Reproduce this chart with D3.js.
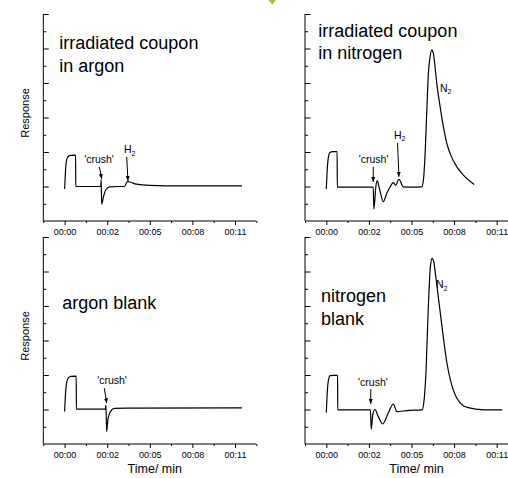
<!DOCTYPE html>
<html>
<head>
<meta charset="utf-8">
<script src="https://cdn.jsdelivr.net/npm/d3@7"></script>
<style>
body{margin:0;background:#fff;}
text{font-family:"Liberation Sans",Arial,sans-serif;fill:#000;}
</style>
</head>
<body>
<div id="viz-container"></div>
<script>
// time in minutes, response in arbitrary units (baseline ~1)
let timeTicks = [0, 2.75, 5.5, 8.25, 11];
let timeLabels = ['00:00', '00:02', '00:05', '00:08', '00:11'];
let timeMinor = [-1.375, 1.375, 4.125, 6.875, 9.625, 12.375];
let respMajor = [1, 2, 3, 4, 5, 6];
let respMinor = [0.5, 1.5, 2.5, 3.5, 4.5, 5.5];

let argonCoupon = [[0,0.93],[0.05,1.38],[0.11,1.72],[0.21,1.86],[0.37,1.9],[0.71,1.91],[0.72,1.0],[1.5,1.0],[2.33,1.0],[2.36,1.2],[2.39,0.49],[2.52,0.72],[2.65,0.9],[2.9,0.99],[3.5,1.0],[3.87,1.0],[4.05,1.14],[4.2,1.13],[4.63,1.07],[5.49,1.03],[6.57,1.02],[11.45,1.02]];
let nitrogenCoupon = [[0,0.93],[0.05,1.4],[0.12,1.8],[0.23,1.98],[0.4,2.01],[0.7,2.01],[0.71,0.98],[2.0,0.98],[3.03,0.98],[3.07,0.34],[3.2,1.0],[3.29,1.17],[3.45,0.9],[3.68,0.56],[3.9,0.8],[4.11,0.98],[4.32,1.11],[4.48,1.04],[4.69,1.21],[4.97,0.99],[5.5,0.98],[6.16,0.99],[6.27,1.19],[6.38,1.96],[6.49,3.22],[6.59,4.28],[6.7,4.76],[6.81,4.96],[6.91,4.86],[7.02,4.47],[7.13,3.99],[7.35,3.31],[7.56,2.73],[7.78,2.25],[7.99,1.96],[8.43,1.57],[8.85,1.33],[9.55,1.06]];
let argonBlank = [[0,0.94],[0.05,1.4],[0.12,1.75],[0.22,1.9],[0.4,1.96],[0.75,1.97],[0.76,1.01],[1.5,1.01],[2.63,1.01],[2.67,1.13],[2.71,0.36],[2.8,0.72],[2.95,0.93],[3.2,1.03],[4.0,1.04],[11.45,1.05]];
let nitrogenBlank = [[0,0.91],[0.05,1.4],[0.12,1.8],[0.25,1.98],[0.45,1.99],[0.73,1.99],[0.74,0.99],[2.0,0.99],[2.85,0.99],[2.9,0.43],[3.0,0.85],[3.14,1.0],[3.35,0.8],[3.64,0.58],[4.0,0.9],[4.33,1.16],[4.55,0.94],[5.2,0.97],[6.19,0.99],[6.29,1.18],[6.44,2.14],[6.57,3.79],[6.72,5.14],[6.83,5.38],[6.94,5.28],[7.04,4.95],[7.15,4.56],[7.36,3.79],[7.58,3.01],[7.79,2.34],[8.01,1.86],[8.44,1.32],[9.09,1.06],[10.17,0.99],[11.36,0.99]];

// annotations: text anchor [t, v], arrow from [t, v] to [t, v]
let crushNotes = [
  {text:[2.22,1.68], from:[2.24,1.57], to:[2.40,1.22]},
  {text:[3.05,1.68], from:[3.03,1.57], to:[3.03,1.13]},
  {text:[3.06,1.74], from:[2.56,1.62], to:[2.72,1.18]},
  {text:[3.01,1.68], from:[2.87,1.59], to:[2.87,1.16]}
];
let h2Notes = [
  {text:[3.83,1.97], from:[4.01,1.86], to:[4.09,1.16]},
  {text:[4.37,2.38], from:[4.60,2.26], to:[4.69,1.28]},
  null, null
];
let n2Notes = [null, [7.34,3.74], null, [7.08,4.52]];

let width = 508, height = 478;
let pw = 213, ph = 207;

let panels = [
  {data: argonCoupon, left: 43.3, top: 14, title: ['irradiated coupon','in argon'], tx: 16, ty: 35, yLabel: true, xLabel: false},
  {data: nitrogenCoupon, left: 305, top: 14, title: ['irradiated coupon','in nitrogen'], tx: 13.3, ty: 22.5, yLabel: false, xLabel: false},
  {data: argonBlank, left: 43.3, top: 237, title: ['argon blank'], tx: 19, ty: 72, yLabel: true, xLabel: true},
  {data: nitrogenBlank, left: 305, top: 237, title: ['nitrogen','blank'], tx: 16, ty: 65, yLabel: false, xLabel: true}
];

let svg = d3.select('#viz-container')
  .append('svg')
  .attr('width', width)
  .attr('height', height);

svg.append('defs').append('marker')
  .attr('id','arrow')
  .attr('viewBox','0 0 10 10')
  .attr('refX',10)
  .attr('refY',5)
  .attr('markerWidth',5)
  .attr('markerHeight',4)
  .attr('preserveAspectRatio','none')
  .attr('orient','auto')
  .append('path')
  .attr('d','M0,0L10,5L0,10z')
  .attr('fill','#000');

// small green marker at top edge
svg.append('path')
  .attr('d','M268.5,0L276,0L272.2,4.5Z')
  .attr('fill','#8cc63e');

let x = d3.scaleLinear().domain([-1.375, 12.375]).range([0, pw]);
let y = d3.scaleLinear().domain([0, 6]).range([ph, 0]);

let line = d3.line()
  .x(d => x(d[0]))
  .y(d => y(d[1]))
  .curve(d3.curveMonotoneX);

panels.forEach(function(p, i){
  let g = svg.append('g').attr('transform','translate('+p.left+','+p.top+')');

  // x axis, minor then major
  g.append('g')
    .attr('transform','translate(0,'+ph+')')
    .call(d3.axisBottom(x).tickValues(timeMinor).tickSize(2).tickSizeOuter(0).tickFormat(''))
    .call(a => a.select('.domain').remove());
  g.append('g')
    .attr('transform','translate(0,'+ph+')')
    .call(d3.axisBottom(x).tickValues(timeTicks).tickSize(4).tickSizeOuter(0).tickPadding(3.5)
      .tickFormat((d, k) => timeLabels[k]))
    .call(a => a.selectAll('text').attr('font-size', 9).attr('font-family', null))
    .call(a => a.select('.domain').attr('d','M0,0H'+pw));

  // y axis, ticks pointing inward
  g.append('g')
    .call(d3.axisLeft(y).tickValues(respMinor).tickSize(-3).tickSizeOuter(0).tickFormat(''))
    .call(a => a.select('.domain').remove());
  g.append('g')
    .call(d3.axisLeft(y).tickValues(respMajor).tickSize(-5.5).tickSizeOuter(0).tickFormat(''))
    .call(a => a.select('.domain').attr('d','M0,0V'+ph));

  g.selectAll('.tick line').attr('stroke','#000');
  g.selectAll('.domain').attr('stroke','#000');

  g.append('path')
    .datum(p.data)
    .attr('d', line)
    .attr('fill','none')
    .attr('stroke','#000')
    .attr('stroke-width',1.2);

  g.selectAll('.title').data(p.title).enter()
    .append('text')
    .attr('class','title')
    .attr('x', p.tx)
    .attr('y', (d, k) => p.ty + k*22.5)
    .attr('font-size', 18)
    .text(d => d);

  let c = crushNotes[i];
  g.append('text')
    .attr('x', x(c.text[0]))
    .attr('y', y(c.text[1]))
    .attr('text-anchor','middle')
    .attr('font-size', 10.5)
    .text("'crush'");
  g.append('line')
    .attr('x1', x(c.from[0])).attr('y1', y(c.from[1]))
    .attr('x2', x(c.to[0])).attr('y2', y(c.to[1]))
    .attr('stroke','#000')
    .attr('stroke-width',1)
    .attr('marker-end','url(#arrow)');

  let h = h2Notes[i];
  if(h){
    let t = g.append('text')
      .attr('x', x(h.text[0]))
      .attr('y', y(h.text[1]))
      .attr('font-size', 10.5);
    t.append('tspan').text('H');
    t.append('tspan').attr('font-size', 7).attr('dy', 2.5).text('2');
    g.append('line')
      .attr('x1', x(h.from[0])).attr('y1', y(h.from[1]))
      .attr('x2', x(h.to[0])).attr('y2', y(h.to[1]))
      .attr('stroke','#000')
      .attr('stroke-width',1)
      .attr('marker-end','url(#arrow)');
  }

  let n = n2Notes[i];
  if(n){
    let t = g.append('text')
      .attr('x', x(n[0]))
      .attr('y', y(n[1]))
      .attr('font-size', 10.5);
    t.append('tspan').text('N');
    t.append('tspan').attr('font-size', 7).attr('dy', 2.5).text('2');
  }

  if(p.yLabel){
    g.append('text')
      .attr('transform','translate('+(-14.5)+','+(ph/2-4.5)+') rotate(-90)')
      .attr('text-anchor','middle')
      .attr('font-size', 11)
      .text('Response');
  }
  if(p.xLabel){
    g.append('text')
      .attr('x', pw/2 + 5)
      .attr('y', ph + 29)
      .attr('text-anchor','middle')
      .attr('font-size', 12.5)
      .text('Time/ min');
  }
});
</script>
</body>
</html>
